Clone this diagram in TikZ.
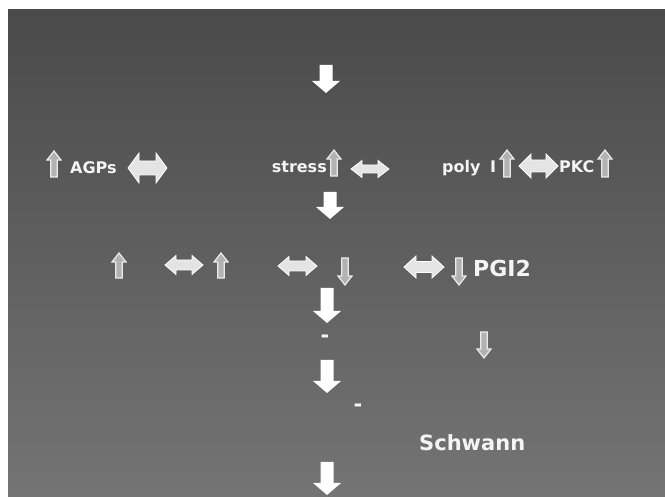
\documentclass[tikz,border=0pt]{standalone}
\usepackage{fontspec}
\setmainfont{DejaVu Sans}
\definecolor{bgtop}{RGB}{74,74,74}
\definecolor{bgbot}{RGB}{116,116,116}
\definecolor{txt}{RGB}{244,244,244}
\definecolor{olfill}{RGB}{178,178,178}
\definecolor{dblfill}{RGB}{228,228,228}
\tikzset{
  lbl/.style={inner sep=0pt, text=txt, font=\bfseries\fontsize{16}{18}\selectfont},
  biglbl/.style={lbl, font=\bfseries\fontsize{22}{24}\selectfont},
  dashlbl/.style={lbl, font=\bfseries\fontsize{21}{23}\selectfont},
  bigarrow/.style={fill=white},
  olarrow/.style={fill=olfill, draw=white!92!black, line width=1.2pt, line join=miter},
  dblarrow/.style={fill=dblfill, draw=white, line width=0.8pt, line join=miter},
}
% big solid down arrow: x, ytop, ybottom
\newcommand\bigdown[3]{\fill[bigarrow] (#1-6.5,#2) -- (#1+6.5,#2) -- (#1+6.5,#3-12) -- (#1+14,#3-12) -- (#1,#3) -- (#1-14,#3-12) -- (#1-6.5,#3-12) -- cycle;}
% outlined up arrow: x, ytop, ybottom
\newcommand\olup[3]{\draw[olarrow] (#1,#2) -- (#1+7,#2+9) -- (#1+3.2,#2+9) -- (#1+3.2,#3) -- (#1-3.2,#3) -- (#1-3.2,#2+9) -- (#1-7,#2+9) -- cycle;}
% outlined down arrow: x, ytop, ybottom
\newcommand\oldown[3]{\draw[olarrow] (#1,#3) -- (#1+7,#3-9) -- (#1+3.2,#3-9) -- (#1+3.2,#2) -- (#1-3.2,#2) -- (#1-3.2,#3-9) -- (#1-7,#3-9) -- cycle;}
% double arrow: x1, x2, yc, head half height, shaft half height, head length
\newcommand\dblarr[6]{\draw[dblarrow] (#1,#3) -- (#1+#6,#3-#4) -- (#1+#6,#3-#5) -- (#2-#6,#3-#5) -- (#2-#6,#3-#4) -- (#2,#3) -- (#2-#6,#3+#4) -- (#2-#6,#3+#5) -- (#1+#6,#3+#5) -- (#1+#6,#3+#4) -- cycle;}
\begin{document}
\begin{tikzpicture}[x=1pt,y=-1pt]
\useasboundingbox (0,0) rectangle (665,497);
\fill[white] (0,0) rectangle (665,497);
\shade[top color=bgtop, bottom color=bgbot] (8,10) rectangle (665,497);

% vertical chain of big arrows
\bigdown{326}{65}{93}
\bigdown{330}{192}{219}
\bigdown{327}{288}{323}
\bigdown{327}{360}{393}
\bigdown{327}{462}{495}

% row 1
\olup{54}{151}{177}
\node[lbl, anchor=base west] (agps) at (70,174) {AGPs};
\dblarr{128}{167}{168}{15}{7}{11}
\node[lbl, anchor=base east] (stress) at (327,173) {stress};
\olup{334}{150}{176}
\dblarr{351}{389}{169}{8.5}{4}{11}
\node[lbl, anchor=base west] (poly) at (442,173) {poly};
\node[lbl, anchor=base west] (roman) at (490,173) {I};
\olup{507}{150}{177}
\dblarr{519}{558}{166}{12}{6}{12}
\node[lbl, anchor=base west] (pkc) at (559,173) {PKC};
\olup{605}{150}{177}

% row 2
\olup{119}{253}{278}
\dblarr{165}{203}{265}{9.5}{5}{11}
\olup{221}{253}{278}
\dblarr{278}{317}{266}{9.5}{5}{11}
\oldown{345}{258}{285}
\dblarr{404}{444}{267}{11}{5.5}{12}
\oldown{459}{258}{285}
\node[biglbl, anchor=base west] (pgi) at (473,277) {PGI2};

% lower part
\node[dashlbl, anchor=center] (dash1) at (325,339) {-};
\oldown{484}{332}{358}
\node[dashlbl, anchor=center] (dash2) at (358,408) {-};
\node[lbl, font=\bfseries\fontsize{21}{23}\selectfont, anchor=base west] (schwann) at (419,450) {Schwann};
\end{tikzpicture}
\end{document}
